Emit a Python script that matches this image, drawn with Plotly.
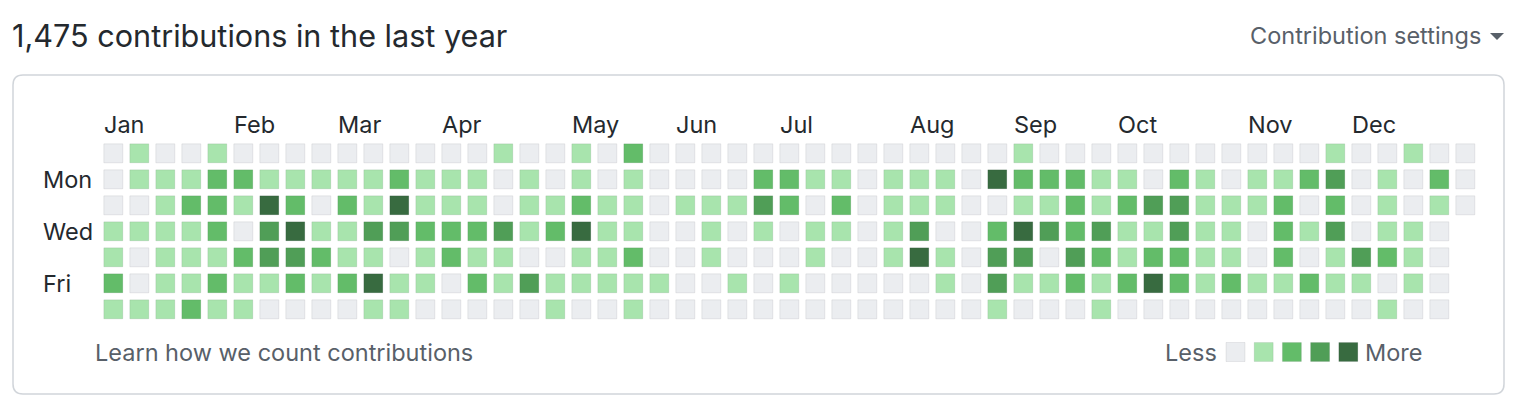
import plotly.graph_objects as go

# ---- data: contribution level (0-4) per week column, one list per weekday ----
sun_levels = [0,1,0,0,1,0,0,0,0, 0,0,0,0,0,0,1,0,0, 1,0,2,0,0,0,0,0,0, 0,0,0,0,0,0,0,0, 1, 0,0,0,0,0,0,0,0, 0,0,0,1,0,0,1,0,0]
mon_levels = [0,1,1,1,2,2,1,1,1, 1,1,2,1,1,1,0,1,0, 1,0,1,0,0,0,0,2,2, 1,1,0,1,1,1,0,4, 2, 2,2,1,1,0,2,1,0, 1,1,2,3,0,1,0,2,0]
tue_levels = [0,0,1,2,2,1,4,2,0, 2,1,4,1,1,1,0,1,1, 2,1,1,0,1,1,1,3,2, 0,2,0,1,1,1,0,0, 1, 1,2,1,2,3,3,1,1, 1,2,0,2,0,1,0,1,0]
wed_levels = [1,1,1,1,2,0,3,4,1, 1,3,3,2,2,2,3,1,2, 4,1,1,0,0,1,0,1,0, 1,1,0,1,3,0,0,2, 4, 3,2,3,1,1,3,1,1, 0,2,1,3,0,1,1,0]
thu_levels = [1,0,1,1,1,2,3,3,2, 1,1,0,1,2,1,1,0,0, 1,1,2,0,0,1,0,0,0, 1,0,0,1,4,1,0,3, 3, 0,3,2,1,2,2,1,1, 0,2,0,1,3,2,1,0]
fri_levels = [2,0,1,1,2,1,1,2,1, 2,4,1,1,0,2,1,3,1, 1,1,1,1,0,0,1,0,1, 0,0,0,0,0,1,0,3, 1, 1,2,1,2,4,2,1,2, 1,1,2,1,1,0,1,0]
sat_levels = [1,1,1,2,1,1,0,0,0, 0,1,1,0,0,0,0,0,1, 0,0,1,0,0,0,0,0,0, 0,0,0,0,0,0,0,1, 0, 0,0,1,0,0,0,0,0, 0,0,0,0,0,1,0,0]

day_rows = [sun_levels, mon_levels, tue_levels, wed_levels, thu_levels, fri_levels, sat_levels]
day_labels = {1: "Mon", 3: "Wed", 5: "Fri"}

month_names = ["Jan", "Feb", "Mar", "Apr", "May", "Jun", "Jul", "Aug", "Sep", "Oct", "Nov", "Dec"]
month_start_week = [0, 5, 9, 13, 18, 22, 26, 31, 35, 39, 44, 48]

level_colors = ["#ebedf0", "#a8e4ad", "#63bc69", "#509e57", "#386b40"]

title_text = "1,475 contributions in the last year"

# ---- geometry (pixels) ----
W, H = 1520, 412
X0, Y0, STEP = 113.3, 153.3, 26.0
FONT = "Inter, 'Noto Sans', sans-serif"
DARK = "#24292e"
GREY = "#586069"
LBL = 23.5

def px(x):
    return x / W

def py(y):
    return 1 - y / H

def dx(x_pix):
    return (x_pix - X0) / STEP

def dy(y_pix):
    return (y_pix - Y0) / STEP

fig = go.Figure()

# cells
xs, ys, cs = [], [], []
for r, row in enumerate(day_rows):
    for c, lvl in enumerate(row):
        xs.append(c)
        ys.append(r)
        cs.append(level_colors[lvl])

fig.add_trace(go.Scatter(
    x=xs, y=ys, mode="markers",
    marker=dict(symbol="square", size=19, color=cs,
                line=dict(color="rgba(27,31,35,0.08)", width=1)),
    hoverinfo="skip", showlegend=False,
))

# legend squares
leg_x0 = dx(1235.5)
leg_step = 28.2 / STEP
leg_y = dy(352)
fig.add_trace(go.Scatter(
    x=[leg_x0 + i * leg_step for i in range(5)], y=[leg_y] * 5, mode="markers",
    marker=dict(symbol="square", size=19, color=level_colors,
                line=dict(color="rgba(27,31,35,0.08)", width=1)),
    hoverinfo="skip", showlegend=False,
))

annotations = []
# month labels
for name, wk in zip(month_names, month_start_week):
    annotations.append(dict(x=wk - 0.42, y=dy(124), xref="x", yref="y", text=name,
                            showarrow=False, xanchor="left", yanchor="middle",
                            font=dict(family=FONT, size=LBL, color=DARK)))
# day labels
for r, lab in day_labels.items():
    annotations.append(dict(x=dx(41), y=r, xref="x", yref="y", text=lab,
                            showarrow=False, xanchor="left", yanchor="middle",
                            font=dict(family=FONT, size=LBL, color=DARK)))
# title
annotations.append(dict(x=px(10), y=py(36), xref="paper", yref="paper", text=title_text,
                        showarrow=False, xanchor="left", yanchor="middle",
                        font=dict(family=FONT, size=30.6, color=DARK)))
annotations.append(dict(x=px(1483), y=py(36), xref="paper", yref="paper", text="Contribution settings",
                        showarrow=False, xanchor="right", yanchor="middle",
                        font=dict(family=FONT, size=LBL, color=GREY)))
annotations.append(dict(x=px(93), y=py(352), xref="paper", yref="paper", text="Learn how we count contributions",
                        showarrow=False, xanchor="left", yanchor="middle",
                        font=dict(family=FONT, size=LBL, color=GREY)))
annotations.append(dict(x=px(1219), y=py(352), xref="paper", yref="paper", text="Less",
                        showarrow=False, xanchor="right", yanchor="middle",
                        font=dict(family=FONT, size=LBL, color=GREY)))
annotations.append(dict(x=px(1363), y=py(352), xref="paper", yref="paper", text="More",
                        showarrow=False, xanchor="left", yanchor="middle",
                        font=dict(family=FONT, size=LBL, color=GREY)))

# box with rounded corners
bx0, by0, bx1, by1, rr = 13, 75, 1504, 394, 10
box_path = (
    f"M {px(bx0+rr)},{py(by0)} L {px(bx1-rr)},{py(by0)} Q {px(bx1)},{py(by0)} {px(bx1)},{py(by0+rr)} "
    f"L {px(bx1)},{py(by1-rr)} Q {px(bx1)},{py(by1)} {px(bx1-rr)},{py(by1)} "
    f"L {px(bx0+rr)},{py(by1)} Q {px(bx0)},{py(by1)} {px(bx0)},{py(by1-rr)} "
    f"L {px(bx0)},{py(by0+rr)} Q {px(bx0)},{py(by0)} {px(bx0+rr)},{py(by0)} Z"
)
tri_path = f"M {px(1490)},{py(33)} L {px(1504)},{py(33)} L {px(1497)},{py(40)} Z"
shapes = [
    dict(type="path", path=box_path, xref="paper", yref="paper",
         line=dict(color="#d1d5da", width=1.5), fillcolor="rgba(0,0,0,0)", layer="below"),
    dict(type="path", path=tri_path, xref="paper", yref="paper",
         line=dict(width=0), fillcolor=GREY),
]

fig.update_layout(
    width=W, height=H, autosize=False,
    margin=dict(l=0, r=0, t=0, b=0),
    paper_bgcolor="white", plot_bgcolor="white",
    xaxis=dict(range=[-X0 / STEP, (W - X0) / STEP], visible=False, fixedrange=True),
    yaxis=dict(range=[(H - Y0) / STEP, -Y0 / STEP], visible=False, fixedrange=True),
    annotations=annotations, shapes=shapes,
    font=dict(family=FONT),
)

fig.write_html("out.html", config={"displayModeBar": False},
               post_script="document.body.style.margin='0';document.body.style.overflow='hidden';")
